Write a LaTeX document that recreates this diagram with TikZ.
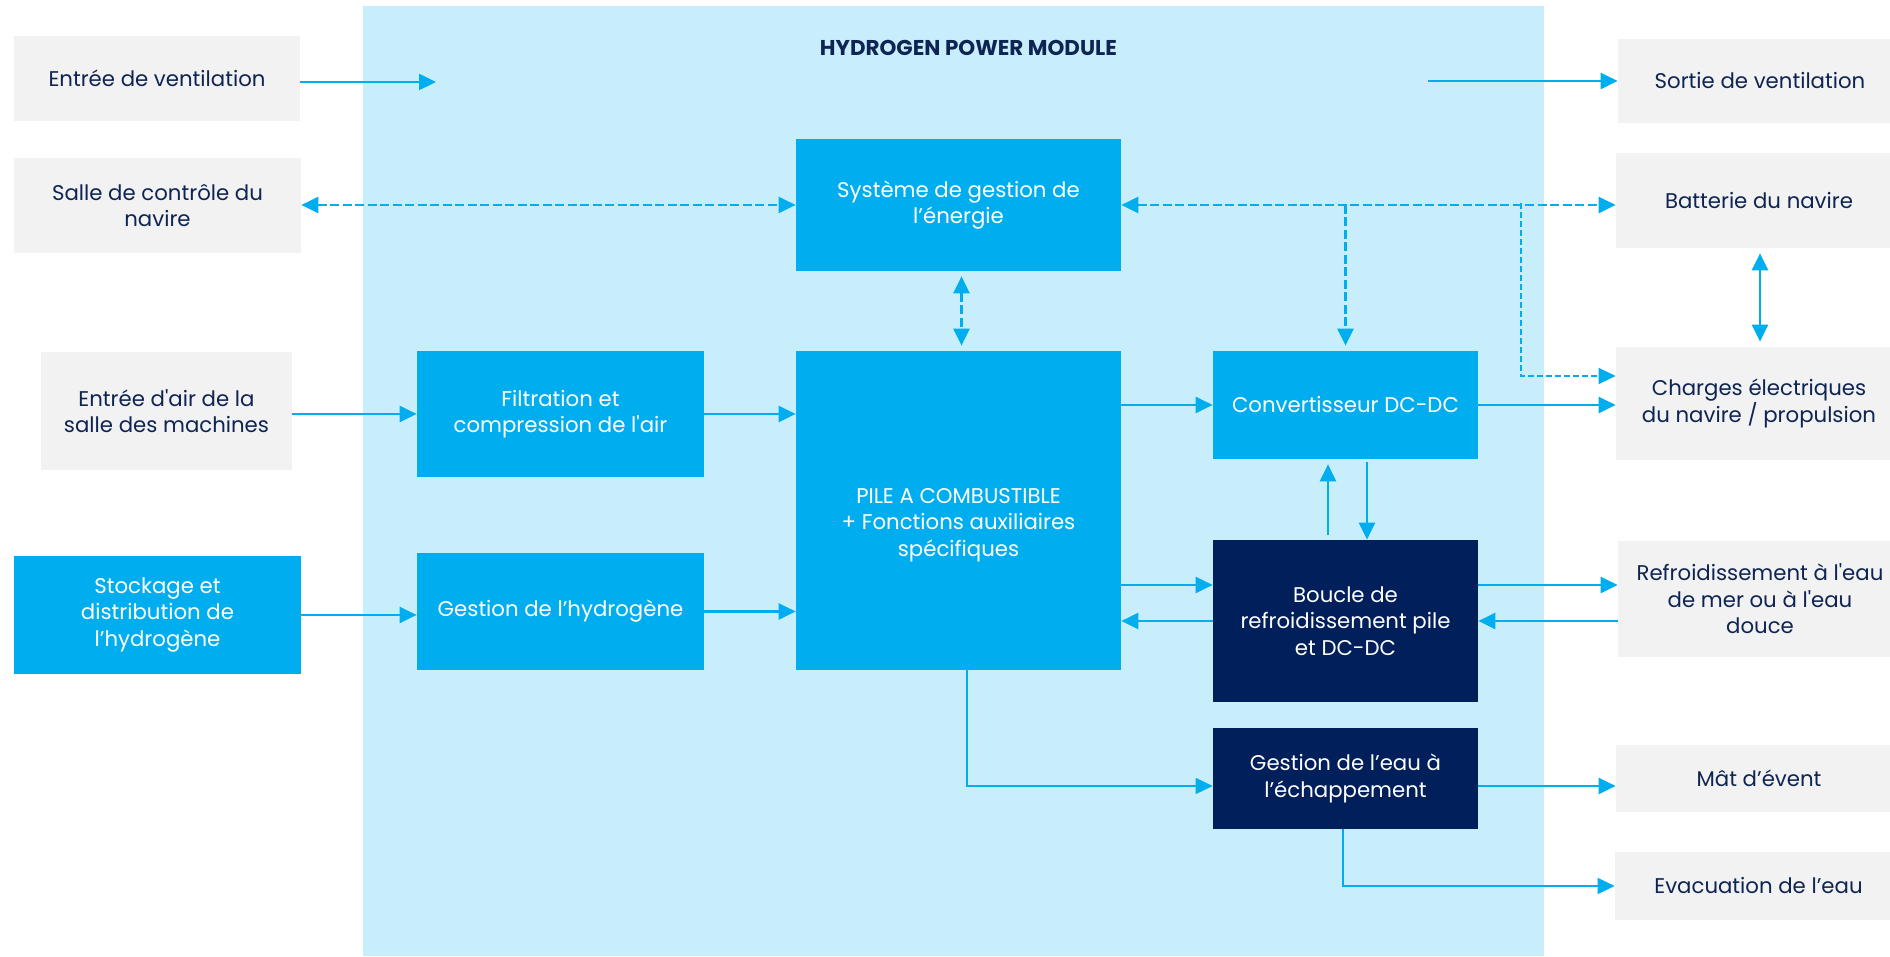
\documentclass[tikz,border=0pt]{standalone}
\usepackage{fontspec}
\setmainfont{Poppins}
\usetikzlibrary{arrows.meta}
\definecolor{greybox}{HTML}{F2F2F2}
\definecolor{modbg}{HTML}{C8EEFC}
\definecolor{hblue}{HTML}{00AEEF}
\definecolor{hnavy}{HTML}{011F5B}
\definecolor{navytext}{HTML}{0E2452}

\begin{document}
\begin{tikzpicture}[
    font=\fontsize{12.1}{15.1}\selectfont,
    >={Triangle[length=0.34cm,width=0.32cm]},
    box/.style={fill=greybox, text=navytext, align=center, inner sep=0pt},
    bluebox/.style={fill=hblue, text=white, align=center, inner sep=0pt},
    navybox/.style={fill=hnavy, text=white, align=center, inner sep=0pt},
    arr/.style={draw=hblue, line width=1.4pt},
    arrD/.style={arr, dash pattern=on 0.18cm off 0.07cm},
    thinD/.style={draw=hblue, line width=0.8pt, dash pattern=on 0.12cm off 0.06cm},
    thin/.style={draw=hblue, line width=1pt}
  ]
    \useasboundingbox (0,0) rectangle (37.80, 19.14);
    \fill [modbg] (7.26, 0.02) rectangle (30.88, 19.02);
    \node [text=navytext, font=\bfseries\fontsize{12.2}{14}\selectfont] (title) at (19.37, 18.18) {HYDROGEN POWER MODULE};

    \node [box, minimum width=5.72cm, minimum height=1.70cm] (vin) at (3.14, 17.57) {Entrée de ventilation};
    \node [box, minimum width=5.74cm, minimum height=1.90cm] (salle) at (3.15, 15.03) {Salle de contrôle du\\navire};
    \node [box, minimum width=5.02cm, minimum height=2.36cm] (airin) at (3.33, 10.92) {Entrée d\textquotesingle air de la\\salle des machines};
    \node [bluebox, minimum width=5.74cm, minimum height=2.36cm] (stock) at (3.15, 6.84) {Stockage et\\distribution de\\l’hydrogène};

    \node [bluebox, minimum width=5.74cm, minimum height=2.52cm] (filt) at (11.21, 10.86) {Filtration et\\compression de l\textquotesingle air};
    \node [bluebox, minimum width=5.74cm, minimum height=2.34cm] (gesth) at (11.21, 6.91) {Gestion de l’hydrogène};
    \node [bluebox, minimum width=6.50cm, minimum height=2.64cm] (sge) at (19.17, 15.04) {Système de gestion de\\l’énergie};
    \node [bluebox, minimum width=6.50cm, minimum height=6.38cm,
      label={[text=white, align=center, yshift=-0.29cm]center:PILE A COMBUSTIBLE\\+ Fonctions auxiliaires\\spécifiques}] (pile) at (19.17, 8.93) {};
    \node [bluebox, minimum width=5.30cm, minimum height=2.16cm] (conv) at (26.91, 11.04) {Convertisseur DC-DC};
    \node [navybox, minimum width=5.30cm, minimum height=3.24cm] (boucle) at (26.91, 6.72) {Boucle de\\refroidissement pile\\et DC-DC};
    \node [navybox, minimum width=5.30cm, minimum height=2.02cm] (geau) at (26.91, 3.57) {Gestion de l’eau à\\l’échappement};

    \node [box, minimum width=5.68cm, minimum height=1.68cm] (vout) at (35.20, 17.52) {Sortie de ventilation};
    \node [box, minimum width=5.72cm, minimum height=1.90cm] (batt) at (35.18, 15.13) {Batterie du navire};
    \node [box, minimum width=5.72cm, minimum height=2.26cm] (charges) at (35.18, 11.07) {Charges électriques\\du navire / propulsion};
    \node [box, minimum width=5.68cm, minimum height=2.32cm] (refr) at (35.20, 7.16) {Refroidissement à l\textquotesingle eau\\de mer ou à l\textquotesingle eau\\douce};
    \node [box, minimum width=5.72cm, minimum height=1.34cm] (mat) at (35.18, 3.57) {Mât d’évent};
    \node [box, minimum width=5.74cm, minimum height=1.36cm] (evac) at (35.17, 1.42) {Evacuation de l’eau};

    \coordinate (vinEnd) at (8.72, 17.50);
    \coordinate (voutStart) at (28.56, 17.52);
    \coordinate (br) at (30.42, 15.08);
    \coordinate (bin) at ([yshift=7.2mm]boucle.west);
    \coordinate (bout) at ([yshift=7.2mm]boucle.east);
    \coordinate (gin) at ([yshift=-1.5mm]geau.west);
    \coordinate (gout) at ([yshift=-1.5mm]geau.east);

    \draw [arr, ->] (vin.east |- vinEnd) to (vinEnd);
    \draw [arr, ->] (voutStart) to (vout.west |- voutStart);
    \draw [arrD, <->] (salle.east |- sge) to (sge.west);
    \draw [arrD, <->, shorten <=1mm, shorten >=1mm] ([xshift=0.6mm]sge.south) to ([xshift=0.6mm]pile.north);
    \draw [arrD, <->] (sge.east) to (batt.west |- sge.east);
    \draw [arrD, ->, shorten >=1mm] (conv.north |- sge.east) to (conv.north);
    \draw [thinD, ->] (br) |- ([yshift=5.5mm]charges.west);
    \draw [arr, ->] (airin.east |- filt) to (filt.west);
    \draw [arr, ->] (filt.east) to (pile.west |- filt.east);
    \draw [arr, ->] (stock.east) to (gesth.west |- stock.east);
    \draw [arr, ->] (gesth.east) to (pile.west |- gesth.east);
    \draw [arr, ->] (pile.east |- conv) to (conv.west);
    \draw [arr, ->] (conv.east) to (charges.west |- conv.east);
    \draw [arr, <->, shorten <=1mm, shorten >=1mm] ([xshift=0.2mm]batt.south) to ([xshift=0.2mm]charges.north);
    \draw [arr, ->, shorten <=1mm, shorten >=1mm] ([xshift=-3.5mm]boucle.north) to ([xshift=-3.5mm]conv.south);
    \draw [arr, ->, shorten <=0.5mm] ([xshift=4.3mm]conv.south) to ([xshift=4.3mm]boucle.north);
    \draw [arr, ->] (pile.east |- bin) to (bin);
    \draw [arr, ->] (boucle.west) to (pile.east |- boucle.west);
    \draw [arr, ->] (bout) to (refr.west |- bout);
    \draw [arr, ->] (refr.west |- boucle.east) to (boucle.east);
    \draw [thin, ->] ([xshift=1.7mm]pile.south) |- (gin);
    \draw [arr, ->] (gout) to (mat.west |- gout);
    \draw [thin, ->] ([xshift=-0.5mm]geau.south) |- (evac.west);
  \end{tikzpicture}
\end{document}
